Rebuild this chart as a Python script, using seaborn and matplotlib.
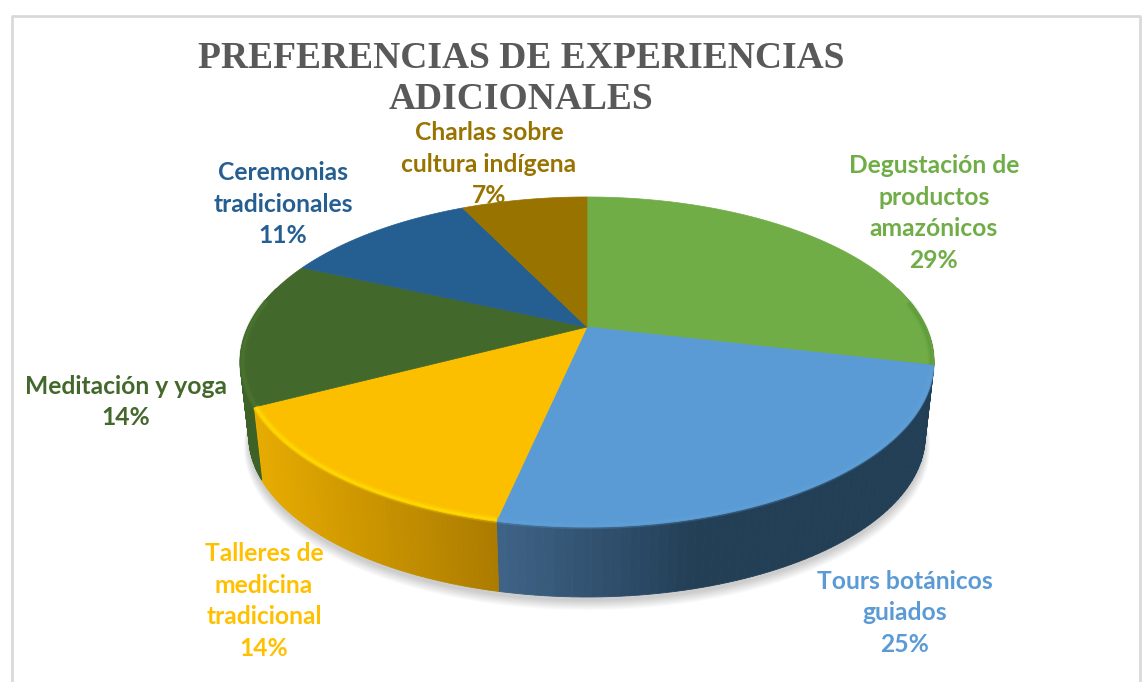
import numpy as np
import matplotlib
matplotlib.use("Agg")
import matplotlib.pyplot as plt
import seaborn as sns

# data
categories = ["Degustación de\nproductos\namazónicos", "Tours botánicos\nguiados",
              "Talleres de\nmedicina\ntradicional", "Meditación y yoga",
              "Ceremonias\ntradicionales", "Charlas sobre\ncultura indígena"]
values = [28.7, 24.7, 14.0, 14.3, 11.1, 7.2]
title_text = "PREFERENCIAS DE EXPERIENCIAS\nADICIONALES"

# styles
top_colors = ["#70AD47", "#5B9BD5", "#FCBF00", "#43682B", "#255E91", "#997300"]
label_colors = ["#70AD47", "#5B9BD5", "#FFC000", "#43682B", "#255E91", "#997300"]
wall_left = ["#4F7A32", "#3F6488", "#E8AC00", "#3E6128", "#1E4A72", "#7A5C00"]
wall_right = ["#3E6128", "#233F56", "#AC7C00", "#3E6128", "#1E4A72", "#7A5C00"]
rim_colors = ["#5E9A3A", "#5F9FD8", "#FFDD00", "#4C7532", "#2C6AA3", "#A87F00"]
label_xy = [(934, 213), (905, 613), (264, 601), (126, 402), (283, 204), (489, 164)]

sns.set_theme(style="white")
plt.rcParams["font.family"] = ["Lato", "DejaVu Sans"]

# pie drawn in tilted view, angle is clockwise from the top
CX, CY = 587, 327
BX, BY, K = 339, 157.6, 0.212


def project(theta, scale=1.0, drop=0.0):
    px = np.sin(theta)
    py = np.cos(theta)
    d = 1 + K * py
    return CX + scale * BX * px / d, CY + drop - scale * BY * py / d


def mix(c1, c2, t):
    a = np.array(matplotlib.colors.to_rgb(c1))
    b = np.array(matplotlib.colors.to_rgb(c2))
    t = min(1.0, max(0.0, t))
    return tuple(a + (b - a) * t)


fig, ax = plt.subplots(figsize=(11.47, 6.82), dpi=100)
fig.subplots_adjust(0, 0, 1, 1)
ax.set_xlim(0, 1147)
ax.set_ylim(682, 0)
ax.axis("off")

# frame of the picture
ax.plot([11.5, 11.5, 1140, 1140], [682, 16, 16, 682], color="#D9D9D9", lw=2)

edges = np.radians(np.cumsum([0] + values) * 3.6)
full = np.linspace(0, 2 * np.pi, 400)

# soft shadow under the pie
for i in range(10):
    sx, sy = project(full, 0.975 + i * 0.0016, 79 + i * 0.7)
    ax.fill(sx, sy, color="#000000", alpha=0.018, lw=0, zorder=1)

# side walls
for i in range(len(values)):
    start = max(edges[i], np.radians(75))
    end = min(edges[i + 1], np.radians(285))
    if end <= start:
        continue
    steps = np.linspace(start, end, 70)
    xs = project(steps)[0]
    for j in range(len(steps) - 1):
        if i == 1:
            # blue wall goes dark quickly towards the right
            t = (xs[j] - 500) / 200
        elif i == 2:
            t = (xs[j] - xs[-1]) / (xs[0] - xs[-1])
        else:
            t = j / (len(steps) - 2)
        th = steps[j:j + 2]
        x1, y1 = project(th)
        x2, y2 = project(th[::-1], 0.975, 75)
        ax.fill(np.r_[x1, x2], np.r_[y1, y2], color=mix(wall_left[i], wall_right[i], t),
                lw=0.6, zorder=2)

# top faces
for i in range(len(values)):
    th = np.linspace(edges[i], edges[i + 1], 120)
    x, y = project(th)
    ax.fill(np.r_[CX, x], np.r_[CY, y], color=top_colors[i], lw=0.5, zorder=3)
    # bevel along the front rim
    front = th[(th > np.radians(80)) & (th < np.radians(280))]
    if len(front) > 1:
        for w, alpha in zip([7, 4, 2], [0.25, 0.35, 0.6]):
            rx, ry = project(front, 0.993)
            ax.plot(rx, ry, color=rim_colors[i], lw=w * 0.72, alpha=alpha, zorder=4,
                    solid_capstyle="butt")

# labels
for name, value, (lx, ly), color in zip(categories, values, label_xy, label_colors):
    ax.text(lx, ly, f"{name}\n{round(value)}%", color=color, ha="center", va="center",
            fontsize=17.7, fontweight="bold", linespacing=1.46, zorder=6)

ax.text(521, 79, title_text, ha="center", va="center", color="#595959",
        family="Liberation Serif", fontsize=27, fontweight="bold", linespacing=1.2, zorder=5)

fig.savefig("out.png", dpi=100)
